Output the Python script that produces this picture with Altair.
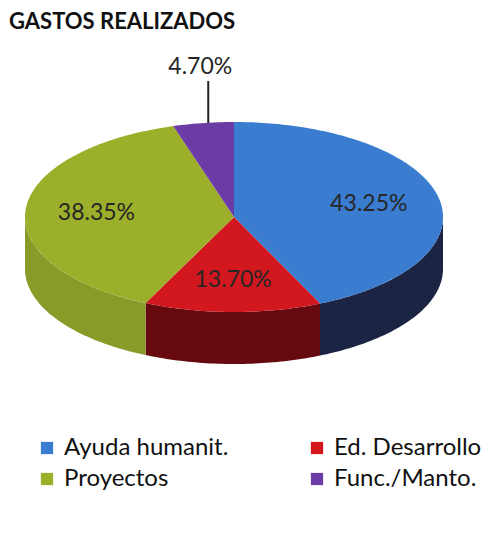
import altair as alt
import numpy as np
import pandas as pd

# ---------------- data ----------------
title_text = "GASTOS REALIZADOS"
categories = ["Ayuda humanit.", "Ed. Desarrollo", "Proyectos", "Func./Manto."]
values = [43.25, 13.70, 38.35, 4.70]
top_colors = ["#3A7CD0", "#D3171F", "#9BAF2A", "#6B3CA6"]
side_colors = ["#1C2444", "#660A0F", "#8A9A28", "#45285F"]
legend_order = ["Ayuda humanit.", "Proyectos", "Ed. Desarrollo", "Func./Manto."]

# ---------------- layout (page pixel space) ----------------
W, H = 477, 515
CX, CY, RX, RY, DEPTH = 234, 217, 209, 95, 52
LABEL_R = 0.66
FONT = "Lato"

total = sum(values)
fr = np.array(values) / total
ends = np.cumsum(fr) * 2 * np.pi
starts = ends - fr * 2 * np.pi


def ex(a, r=1.0):
    return CX + RX * r * np.sin(a)


def ey(a, r=1.0, dz=0.0):
    return CY - RY * r * np.cos(a) + dz


top_rows, side_rows, lab_rows = [], [], []
for k, (c, s, e) in enumerate(zip(categories, starts, ends)):
    n = max(8, int(np.degrees(e - s)))
    angs = np.linspace(s, e, n)
    pts = [(CX, CY)] + [(ex(a), ey(a)) for a in angs] + [(CX, CY)]
    for i, (x, y) in enumerate(pts):
        top_rows.append(dict(part=f"top{k}", cat=c, i=i, x=x, y=y))
    lo, hi = max(s, np.pi / 2), min(e, 3 * np.pi / 2)
    if hi > lo:
        angs = np.linspace(lo, hi, max(8, int(np.degrees(hi - lo))))
        pts = [(ex(a), ey(a)) for a in angs] + [(ex(a), ey(a, dz=DEPTH)) for a in angs[::-1]]
        for i, (x, y) in enumerate(pts):
            side_rows.append(dict(part=f"side{k}", shade=side_colors[k], i=i, x=x, y=y))
    mid = (s + e) / 2
    label = f"{values[k]:.2f}%"
    if values[k] < 5:
        rx_, ry_ = ex(mid), ey(mid)
        lab_rows.append(dict(label=label, x=rx_ - 3, y=ry_ - 56, lx=rx_ + 5, ly=ry_, ly2=ry_ - 42, outside=1))
    else:
        lab_rows.append(dict(label=label, x=ex(mid, LABEL_R), y=ey(mid, LABEL_R), lx=None, ly=None, ly2=None, outside=0))

top_df = pd.DataFrame(top_rows)
side_df = pd.DataFrame(side_rows)
lab_df = pd.DataFrame(lab_rows)
title_df = pd.DataFrame([dict(t=title_text, x=9, y=12)])

color_of = dict(zip(categories, top_colors))

xs = alt.Scale(domain=[8, 8 + W], nice=False, zero=False)
ys = alt.Scale(domain=[8, 8 + H], nice=False, zero=False, reverse=True)

sides = alt.Chart(side_df).mark_line(filled=True, strokeWidth=0).encode(
    x=alt.X("x:Q", scale=xs, axis=None),
    y=alt.Y("y:Q", scale=ys, axis=None),
    fill=alt.Fill("shade:N", scale=None),
    detail="part:N",
    order=alt.Order("i:Q"),
)

tops = alt.Chart(top_df).mark_line(filled=True, strokeWidth=0).encode(
    x=alt.X("x:Q", scale=xs, axis=None),
    y=alt.Y("y:Q", scale=ys, axis=None),
    color=alt.Color(
        "cat:N",
        scale=alt.Scale(domain=legend_order, range=[color_of[c] for c in legend_order]),
        legend=alt.Legend(
            title=None, orient="none", legendX=27, legendY=428, columns=2,
            symbolType="square", symbolSize=150, symbolStrokeWidth=0,
            labelFont=FONT, labelFontSize=24, labelColor="#111111", labelLimit=400,
            labelOffset=5, columnPadding=76, rowPadding=7, padding=0,
        ),
    ),
    detail="part:N",
    order=alt.Order("i:Q"),
)

labels = alt.Chart(lab_df).mark_text(font=FONT, fontSize=23, color="#262626",
                                     align="center", baseline="middle").encode(
    x=alt.X("x:Q", scale=xs, axis=None),
    y=alt.Y("y:Q", scale=ys, axis=None),
    text="label:N",
)

leader = alt.Chart(lab_df).transform_filter("datum.outside == 1").mark_rule(
    color="#222222", strokeWidth=2).encode(
    x=alt.X("lx:Q", scale=xs, axis=None),
    y=alt.Y("ly:Q", scale=ys, axis=None),
    y2="ly2:Q",
)

title = alt.Chart(title_df).mark_text(font=FONT, fontSize=22, fontWeight="bold", color="#111111",
                                      align="left", baseline="top").encode(
    x=alt.X("x:Q", scale=xs, axis=None),
    y=alt.Y("y:Q", scale=ys, axis=None),
    text="t:N",
)

chart = alt.layer(sides, tops, leader, labels, title).properties(
    width=W, height=H, padding=0, background="white",
    autosize=alt.AutoSizeParams(type="none"),
).configure_view(stroke=None)

chart.save("out.html", embed_options={"renderer": "svg", "actions": False})
